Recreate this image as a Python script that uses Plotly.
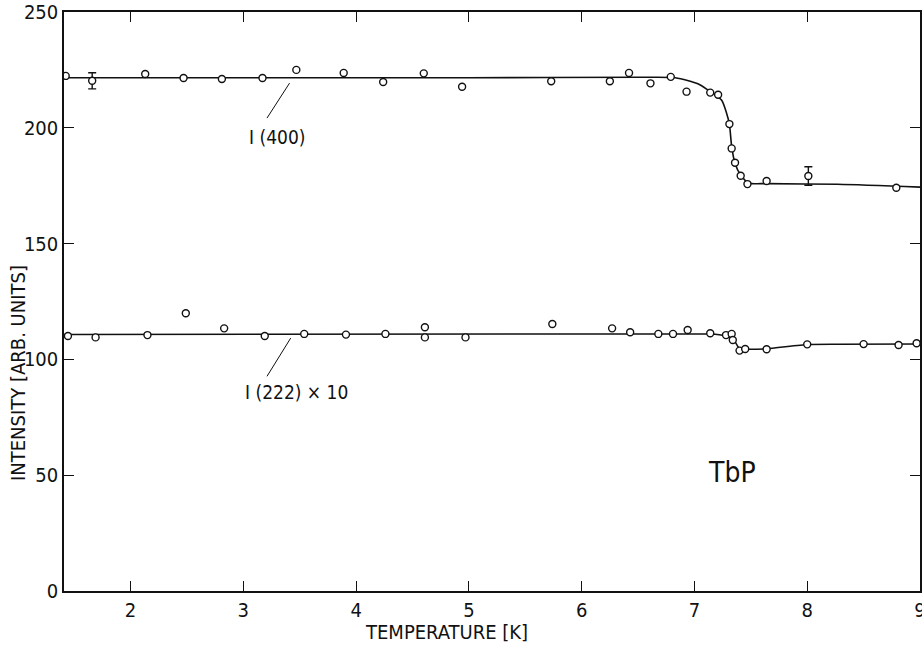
import plotly.graph_objects as go

# ---- data ----
# I(400) measured points
t400 = [1.425, 2.13, 2.47, 2.81, 3.17, 3.47, 3.89, 4.24, 4.60, 4.94, 5.73, 6.25,
        6.42, 6.61, 6.79, 6.93, 7.14, 7.21, 7.31, 7.33, 7.36, 7.41, 7.47, 7.64, 8.79]
i400 = [222.4, 223.2, 221.5, 221.1, 221.5, 225.0, 223.7, 219.8, 223.5, 217.7, 220.1, 220.1,
        223.7, 219.2, 222.0, 215.6, 215.2, 214.3, 201.6, 191.1, 184.9, 179.3, 175.7, 177.0, 174.1]
# I(400) points with error bars
t400_err = [1.66, 8.01]
i400_err = [220.3, 179.2]
d400_err = [3.5, 4.0]
# I(400) guide curve
t400_fit = [1.41, 3.0, 5.0, 6.5, 6.83, 7.035, 7.12, 7.24, 7.285, 7.31, 7.33, 7.36, 7.41,
            7.48, 7.64, 8.27, 9.0]
i400_fit = [221.6, 221.6, 221.6, 221.8, 221.6, 218.9, 216.3, 212.0, 206.3, 201.6, 192.0,
            184.6, 179.6, 176.2, 175.9, 175.6, 174.4]

# I(222) x 10 measured points
t222 = [1.445, 1.69, 2.15, 2.49, 2.83, 3.19, 3.54, 3.91, 4.26, 4.61, 4.61, 4.97, 5.74,
        6.27, 6.43, 6.68, 6.81, 6.94, 7.14, 7.28, 7.33, 7.34, 7.40, 7.45, 7.64, 8.00,
        8.50, 8.81, 8.97]
i222 = [110.1, 109.5, 110.5, 119.9, 113.4, 110.1, 111.0, 110.7, 111.0, 113.9, 109.5, 109.5,
        115.3, 113.4, 111.7, 111.0, 111.0, 112.7, 111.3, 110.5, 111.0, 108.4, 103.8, 104.5,
        104.4, 106.5, 106.6, 106.2, 107.0]
# I(222) x 10 guide curve
t222_fit = [1.41, 7.14, 7.27, 7.35, 7.40, 7.45, 7.64, 8.0, 8.27, 9.0]
i222_fit = [110.8, 111.0, 110.2, 108.3, 104.6, 104.4, 104.6, 106.4, 106.5, 106.6]

x_ticks = [2, 3, 4, 5, 6, 7, 8, 9]
y_ticks = [0, 50, 100, 150, 200, 250]

# labels and leader lines
lab400 = "I (400)"
lab400_pos = (3.30, 196.0)
lead400_t = [3.21, 3.41]
lead400_i = [204.2, 219.3]
lab222 = "I (222) × 10"
lab222_pos = (3.47, 85.9)
lead222_t = [3.21, 3.42]
lead222_i = [92.7, 109.2]
sample = "TbP"
sample_pos = (7.33, 51.0)

FONT = "Liberation Sans Narrow, DejaVu Sans Condensed, Arial Narrow, sans-serif"
INK = "#111111"

fig = go.Figure()

fig.add_trace(go.Scatter(x=t400_fit, y=i400_fit, mode="lines",
                         line=dict(color=INK, width=1.6, shape="spline", smoothing=0.7),
                         hoverinfo="skip"))
fig.add_trace(go.Scatter(x=t222_fit, y=i222_fit, mode="lines",
                         line=dict(color=INK, width=1.5, shape="spline", smoothing=0.4),
                         hoverinfo="skip"))
fig.add_trace(go.Scatter(x=lead400_t, y=lead400_i, mode="lines",
                         line=dict(color=INK, width=1), hoverinfo="skip"))
fig.add_trace(go.Scatter(x=lead222_t, y=lead222_i, mode="lines",
                         line=dict(color=INK, width=1), hoverinfo="skip"))

marker = dict(symbol="circle", size=7, color="white", line=dict(color=INK, width=1.4))
fig.add_trace(go.Scatter(x=t400, y=i400, mode="markers", marker=marker))
fig.add_trace(go.Scatter(x=t222, y=i222, mode="markers", marker=marker))
fig.add_trace(go.Scatter(x=t400_err, y=i400_err, mode="markers", marker=marker,
                         error_y=dict(type="data", array=d400_err, color=INK,
                                      thickness=1.4, width=4)))

fig.add_annotation(x=lab400_pos[0], y=lab400_pos[1], text=lab400, showarrow=False,
                   font=dict(family=FONT, size=19, color=INK))
fig.add_annotation(x=lab222_pos[0], y=lab222_pos[1], text=lab222, showarrow=False,
                   font=dict(family=FONT, size=19, color=INK))
fig.add_annotation(x=sample_pos[0], y=sample_pos[1], text=sample, showarrow=False,
                   font=dict(family=FONT, size=28, color=INK))

# axis titles
fig.add_annotation(xref="paper", yref="paper", x=0.447, y=0, yshift=-41,
                   text="TEMPERATURE [K]", showarrow=False, yanchor="middle",
                   font=dict(family=FONT, size=20, color=INK))
fig.add_annotation(xref="paper", yref="paper", x=0, y=0.3765, xshift=-46,
                   text="INTENSITY [ARB. UNITS]", showarrow=False, textangle=-90,
                   xanchor="center", yanchor="middle",
                   font=dict(family=FONT, size=20, color=INK))

axis_common = dict(showgrid=False, zeroline=False, showline=True, linecolor=INK,
                   linewidth=1.5, mirror="ticks", ticks="inside", ticklen=10,
                   tickwidth=1.2, tickcolor=INK, automargin=False,
                   ticklabeloverflow="allow",
                   tickfont=dict(family=FONT, size=20, color=INK))
fig.update_xaxes(range=[1.41, 9.0], tickvals=x_ticks, ticktext=[str(v) for v in x_ticks],
                 **axis_common)
fig.update_yaxes(range=[0, 250], tickvals=y_ticks, ticktext=[str(v) for v in y_ticks],
                 **axis_common)

fig.update_layout(width=922, height=655, showlegend=False,
                  paper_bgcolor="white", plot_bgcolor="white",
                  margin=dict(l=64, r=2, t=12, b=64, autoexpand=False),
                  font=dict(family=FONT, color=INK))

# remove the default page margin so the figure sits at the window's top-left corner
fig.write_html("out.html",
               config={"displayModeBar": False},
               post_script="document.body.style.margin='0';"
                           "document.body.style.overflow='hidden';")
